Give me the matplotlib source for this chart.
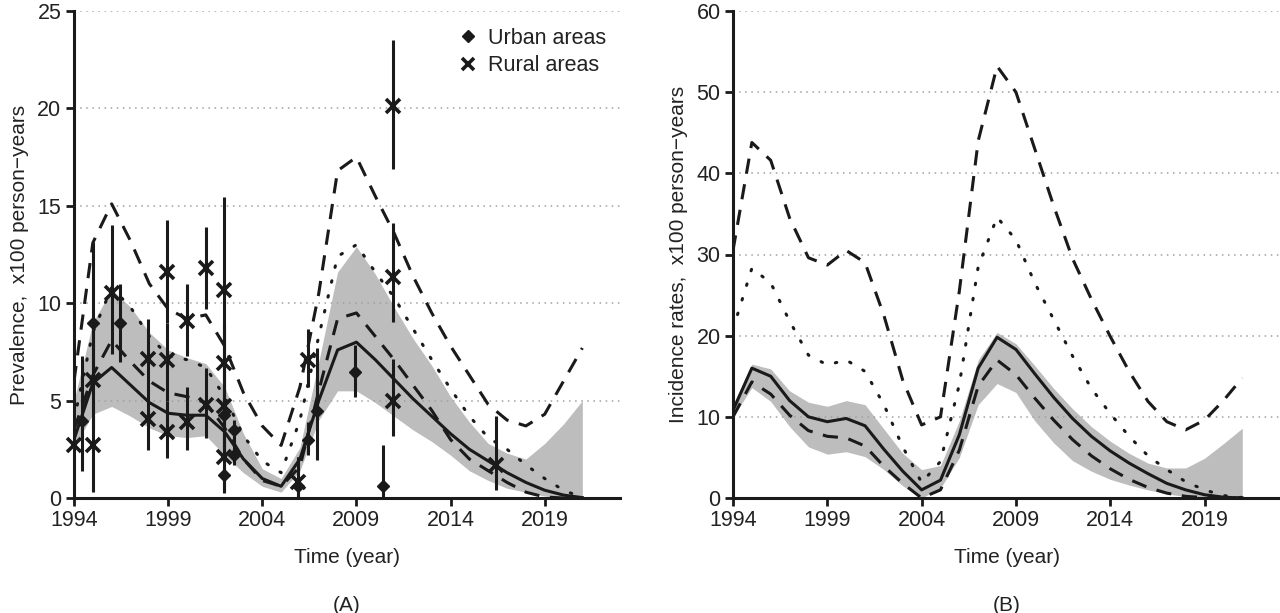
import matplotlib
matplotlib.use("Agg")
import matplotlib.pyplot as plt
import numpy as np

plt.rcParams['font.family'] = ['Liberation Sans', 'DejaVu Sans']

years = list(range(1994, 2022))

# ---------------- Panel A : prevalence ----------------
a_mean = [3.0, 5.9, 6.7, 5.8, 4.9, 4.35, 4.25, 4.25, 3.4, 2.0, 1.0, 0.6, 2.0, 5.0,
          7.6, 8.0, 7.1, 6.1, 5.1, 4.2, 3.3, 2.5, 1.9, 1.3, 0.8, 0.4, 0.15, 0.02]
a_low = [2.6, 4.3, 4.7, 4.2, 3.6, 3.2, 3.1, 3.2, 2.2, 1.3, 0.6, 0.3, 1.4, 4.0,
         5.5, 5.5, 4.9, 4.2, 3.5, 2.9, 2.2, 1.4, 0.9, 0.5, 0.3, 0.1, 0.0, 0.0]
a_high = [5.0, 9.0, 10.7, 9.8, 8.5, 7.6, 7.2, 6.9, 5.7, 3.3, 1.5, 1.0, 2.6, 7.0,
          11.6, 12.9, 11.5, 9.8, 8.2, 6.8, 5.2, 3.9, 2.8, 2.3, 2.0, 2.8, 3.8, 5.0]
a_dash_hi = [6.0, 13.1, 15.1, 13.2, 11.0, 9.7, 9.2, 9.4, 7.8, 5.4, 3.7, 2.7, 5.7, 10.5,
             16.8, 17.5, 15.5, 13.6, 11.4, 9.5, 7.8, 6.3, 4.8, 4.0, 3.7, 4.3, 6.0, 7.7]
a_dot = [4.0, 8.5, 10.8, 9.8, 8.3, 7.3, 7.1, 6.7, 5.2, 3.2, 1.9, 1.3, 4.0, 8.3,
         12.4, 13.0, 11.6, 10.3, 8.7, 7.1, 5.6, 4.2, 3.1, 2.5, 1.7, 1.0, 0.4, 0.02]
a_dash_lo = [3.5, 6.3, 8.1, 7.0, 6.0, 5.4, 5.2, 4.9, 3.6, 2.0, 0.9, 0.6, 1.6, 5.5,
             9.2, 9.5, 8.3, 7.1, 5.8, 4.5, 3.0, 2.0, 1.4, 0.8, 0.3, 0.05, 0.0, 0.0]

urban_x = [1994.45, 1995.0, 1996.45, 2001.95, 2001.95, 2002.5, 2002.5, 2005.9, 2006.45,
           2006.9, 2008.9, 2010.4]
urban_y = [3.95, 9.0, 8.96, 4.25, 1.18, 3.5, 2.2, 0.62, 3.0, 4.48, 6.48, 0.62]
urban_lo = [1.4, 6.0, 7.0, 2.5, 0.3, 2.4, 1.7, 0.07, 2.2, 1.95, 5.2, 0.0]
urban_hi = [7.3, 13.15, 11.0, 6.0, 2.5, 4.0, 3.0, 2.1, 3.9, 7.7, 7.85, 2.7]

rural_x = [1994.0, 1995.0, 1995.0, 1996.0, 1997.93, 1997.93, 1998.94, 1998.94, 1998.94,
           2000.0, 2000.0, 2001.0, 2001.0, 2001.95, 2001.95, 2001.95, 2001.95, 2005.9,
           2006.45, 2010.95, 2010.95, 2010.95, 2016.4]
rural_y = [2.7, 6.05, 2.7, 10.5, 7.16, 4.03, 11.6, 7.1, 3.4, 9.1, 3.9, 11.8, 4.77,
           10.7, 6.94, 4.7, 2.1, 0.84, 7.08, 20.1, 11.35, 5.0, 1.7]
rural_lo = [2.7, 3.5, 0.3, 7.4, 5.5, 2.46, 9.0, 5.0, 2.03, 7.3, 2.46, 9.7, 3.06,
            6.0, 4.5, 2.5, 0.24, 0.07, 5.7, 16.9, 9.05, 3.2, 0.4]
rural_hi = [2.7, 9.0, 5.0, 14.0, 9.2, 5.6, 14.25, 9.0, 5.0, 11.0, 5.7, 13.9, 6.65,
            15.45, 9.0, 7.0, 4.0, 2.1, 8.7, 23.5, 14.1, 7.15, 4.2]

# ---------------- Panel B : incidence ----------------
b_mean = [10.8, 16.0, 15.0, 12.0, 10.0, 9.4, 9.8, 8.9, 6.0, 3.3, 1.0, 2.2, 7.8, 16.0,
          19.8, 18.3, 15.3, 12.4, 9.8, 7.6, 5.8, 4.3, 3.0, 1.8, 1.0, 0.4, 0.1, 0.0]
b_low = [10.0, 13.6, 11.9, 8.8, 6.3, 5.4, 5.7, 5.1, 3.5, 1.5, 0.0, 1.2, 5.0, 11.5,
         14.1, 13.0, 9.5, 6.8, 4.6, 3.3, 2.3, 1.6, 1.0, 0.5, 0.2, 0.05, 0.0, 0.0]
b_high = [11.5, 16.5, 15.9, 13.2, 11.8, 11.3, 12.0, 11.5, 8.5, 5.5, 3.5, 4.0, 9.5, 17.0,
          20.4, 19.0, 16.3, 13.5, 11.0, 8.8, 7.0, 5.5, 4.3, 3.7, 3.7, 4.9, 6.7, 8.6]
b_dash_hi = [30.5, 43.8, 41.6, 34.5, 29.6, 28.7, 30.5, 29.0, 22.5, 14.5, 9.0, 10.0, 25.5, 44.0,
             53.2, 50.0, 43.0, 36.0, 29.5, 24.5, 19.9, 15.6, 11.9, 9.4, 8.4, 9.6, 12.0, 14.8]
b_dot = [20.8, 28.3, 26.5, 21.8, 17.6, 16.4, 17.0, 15.6, 11.5, 6.3, 1.9, 4.5, 14.0, 28.5,
         34.6, 31.8, 26.5, 22.0, 17.5, 13.5, 10.4, 7.6, 5.2, 3.5, 2.0, 1.0, 0.3, 0.05]
b_dash_lo = [10.0, 14.3, 12.8, 10.2, 8.3, 7.6, 7.4, 6.4, 3.9, 1.8, 0.0, 1.0, 5.9, 13.8,
             17.0, 15.2, 12.3, 9.6, 7.2, 5.2, 3.6, 2.3, 1.3, 0.6, 0.2, 0.05, 0.0, 0.0]

xticks = [1994, 1999, 2004, 2009, 2014, 2019]

INK = '#1a1a1a'
BAND = '#bdbdbd'

fig = plt.figure(figsize=(12.8, 6.13), dpi=100)
axA = fig.add_axes([74 / 1280, 115 / 613, 546 / 1280, 487 / 613])
axB = fig.add_axes([733 / 1280, 115 / 613, 547 / 1280, 487 / 613])


def style(ax, ymax, ystep, ylabel, panel):
    ax.set_xlim(1994, 2023)
    ax.set_ylim(0, ymax)
    ax.set_xticks(xticks)
    ax.set_yticks(np.arange(0, ymax + 0.1, ystep))
    for s in ['top', 'right']:
        ax.spines[s].set_visible(False)
    for s in ['left', 'bottom']:
        ax.spines[s].set_linewidth(2.2)
        ax.spines[s].set_color(INK)
    ax.tick_params(axis='both', direction='out', length=6, width=2.0, color=INK,
                   labelsize=15.5, labelcolor='#222222', pad=3)
    ax.set_axisbelow('line')
    ax.yaxis.grid(True, linestyle=(0, (1, 3)), color='#a0a0a0', linewidth=1.1)
    ax.set_ylabel(ylabel, fontsize=15, color='#222222', labelpad=6)
    ax.set_xlabel('Time (year)', fontsize=15, color='#222222', labelpad=12)
    ax.text(0.5, -0.22, panel, transform=ax.transAxes, ha='center', va='center',
            fontsize=15, color='#222222')


def curves(ax, mean, low, high, dhi, dot, dlo):
    ax.fill_between(years, low, high, color=BAND, linewidth=0, zorder=0.5)
    ax.plot(years, dhi, color=INK, lw=2.2, linestyle=(0, (5, 3.5)), zorder=2)
    ax.plot(years, dot, color=INK, lw=2.2, linestyle=(0, (0.5, 4.5)),
            dash_capstyle='round', zorder=2)
    ax.plot(years, dlo, color=INK, lw=2.2, linestyle=(0, (5, 3.5)), zorder=2)
    ax.plot(years, mean, color=INK, lw=2.2, zorder=3)


curves(axA, a_mean, a_low, a_high, a_dash_hi, a_dot, a_dash_lo)
curves(axB, b_mean, b_low, b_high, b_dash_hi, b_dot, b_dash_lo)

ux = np.array(urban_x); uy = np.array(urban_y)
axA.errorbar(ux, uy, yerr=[uy - np.array(urban_lo), np.array(urban_hi) - uy],
             fmt='none', ecolor=INK, elinewidth=2.2, capsize=0, zorder=4, clip_on=False)
rx = np.array(rural_x); ry = np.array(rural_y)
axA.errorbar(rx, ry, yerr=[ry - np.array(rural_lo), np.array(rural_hi) - ry],
             fmt='none', ecolor=INK, elinewidth=2.2, capsize=0, zorder=4, clip_on=False)
axA.plot(ux, uy, linestyle='none', marker='D', markersize=6.5, color=INK,
         zorder=5, clip_on=False, label='Urban areas')
axA.plot(rx, ry, linestyle='none', marker='x', markersize=10, markeredgewidth=2.6,
         color=INK, zorder=5, clip_on=False, label='Rural areas')

style(axA, 25, 5, 'Prevalence,  x100 person\u2212years', '(A)')
style(axB, 60, 10, 'Incidence rates,  x100 person\u2212years', '(B)')

leg = axA.legend(loc='upper right', bbox_to_anchor=(1.01, 1.005), frameon=False,
                 fontsize=15.5, handletextpad=0.35, labelspacing=0.3, handlelength=1.2,
                 markerscale=0.9)
for t in leg.get_texts():
    t.set_color('#222222')

fig.savefig('out.png', dpi=100)
